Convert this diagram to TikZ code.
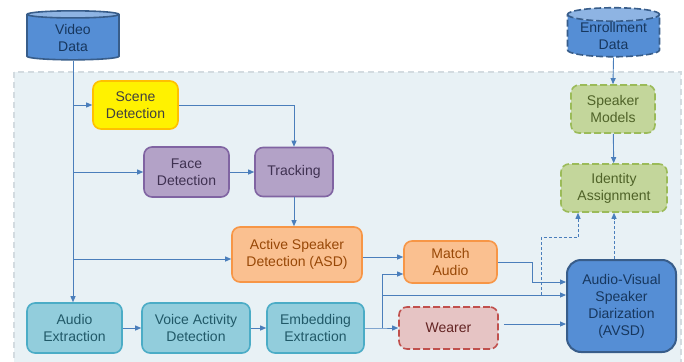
\documentclass[tikz,border=0pt]{standalone}
\usepackage{fontspec}
\setmainfont{Liberation Sans}
\usepackage{tikz}
\usetikzlibrary{positioning, arrows.meta, shapes.geometric}
\definecolor{lineblue}{RGB}{74,126,187}
\definecolor{panelfill}{HTML}{E8F1F5}
\definecolor{paneldraw}{HTML}{D3DBE0}
\definecolor{dbfill}{HTML}{558ED5}
\definecolor{dbtop}{HTML}{8EB4E3}
\definecolor{dbdraw}{HTML}{385D8A}
\definecolor{dbtext}{HTML}{17375E}
\tikzset{box/.style={draw, rounded corners=8pt, line width=1.6pt, align=center, inner sep=0pt, font=\fontsize{14}{17}\selectfont}}
\tikzset{E/.style={draw=lineblue, line width=0.9pt, -{Triangle[length=6pt,width=5pt]}}}
\tikzset{D/.style={E, dash pattern=on 3pt off 2pt}}
\tikzset{dashbox/.style={dash pattern=on 7pt off 3pt}}
\tikzset{db/.style={cylinder, shape border rotate=90, aspect=0.2, draw=dbdraw, line width=1.6pt, cylinder uses custom fill, cylinder body fill=dbfill, cylinder end fill=dbtop, text=dbtext, align=center, inner sep=0pt, minimum width=92pt, minimum height=49pt, font=\fontsize{14}{17}\selectfont}}
\tikzset{Y/.style={box, fill=yellow, draw={rgb,255:red,255;green,192;blue,0}, text={rgb,255:red,64;green,64;blue,64}}}
\tikzset{P/.style={box, fill={rgb,255:red,179;green,162;blue,199}, draw={rgb,255:red,128;green,100;blue,162}, text={rgb,255:red,63;green,49;blue,81}}}
\tikzset{O/.style={box, fill={rgb,255:red,250;green,192;blue,144}, draw={rgb,255:red,247;green,150;blue,70}, text={rgb,255:red,152;green,72;blue,7}}}
\tikzset{T/.style={box, fill={rgb,255:red,146;green,205;blue,220}, draw={rgb,255:red,75;green,172;blue,198}, text={rgb,255:red,33;green,89;blue,104}, minimum height=50pt}}
\tikzset{R/.style={box, dashbox, fill={rgb,255:red,230;green,196;blue,196}, draw={rgb,255:red,192;green,80;blue,77}, text={rgb,255:red,99;green,36;blue,35}}}
\tikzset{G/.style={box, dashbox, fill={rgb,255:red,195;green,214;blue,155}, draw={rgb,255:red,155;green,187;blue,89}, text={rgb,255:red,79;green,98;blue,40}}}
\tikzset{B/.style={box, rounded corners=14pt, line width=2pt, fill=dbfill, draw=dbdraw, text=dbtext}}

\begin{document}
\begin{tikzpicture}[x=1pt, y=-1pt, node distance=120pt and 120pt, on grid]
        \useasboundingbox (0,0) rectangle (684,361);
        %% Background panel
        \draw[fill=panelfill, draw=paneldraw, line width=1.2pt, dash pattern=on 6pt off 4pt] (14,72) rectangle (681,375);
        %% Data sources
        \node[db] (video) at (73,37.5) {Video\\Data};
        \node[db, dashbox] (enroll) at (613.5,36) {Enrollment\\Data};
        %% Video branch
        \node[Y, minimum width=85pt, minimum height=48pt] (scene) at (135.5,105) {Scene\\Detection};
        \node[P, minimum width=85pt, minimum height=50pt] (face) at (186.5,172) {Face\\Detection};
        \node[P, minimum width=78pt, minimum height=49pt, right=107.5pt of face] (track) {Tracking};
        \node[O, minimum width=130pt, minimum height=55pt] (asd) at (297,254.5) {Active Speaker\\Detection (ASD)};
        \node[O, minimum width=93pt, minimum height=42pt] (match) at (450.5,262) {Match\\Audio};
        %% Audio branch
        \node[T, minimum width=95pt] (audio) at (74.5,328) {Audio\\Extraction};
        \node[T, minimum width=108pt, right=121.5pt of audio] (vad) {Voice Activity\\Detection};
        \node[T, minimum width=97pt, right=119.5pt of vad] (embed) {Embedding\\Extraction};
        \node[R, minimum width=99pt, minimum height=42pt] (wearer) at (448.5,328) {Wearer};
        %% Diarization and identity
        \node[B, minimum width=109pt, minimum height=92pt] (avsd) at (621.5,306) {Audio-Visual\\Speaker\\Diarization\\(AVSD)};
        \node[G, minimum width=84pt, minimum height=48pt] (models) at (613,109) {Speaker\\Models};
        \node[G, minimum width=106pt, minimum height=48pt] (ident) at (614,188) {Identity\\Assignment};
        %% Helper points
        \coordinate[below=4.5pt of asd.west] (asdin);
        \coordinate[below=2.5pt of asd.east] (asdout);
        \coordinate[right=18pt of embed.east] (ej);
        \coordinate[below=12pt of match.west] (matchin);
        \coordinate[right=35pt of match.east] (mj);
        \coordinate[above=24pt of avsd.west] (avmatch);
        \coordinate[above=11pt of avsd.west] (avin);
        \coordinate[below=18pt of avsd.west] (avwear);
        \coordinate[left=25pt of avin] (dj);
        \coordinate[left=36pt of ident.south] (idin);
        \coordinate[below=25pt of idin] (idbend);
        %% Video edges
        \draw[E] (video.south) -- (video.south |- audio.north);
        \draw[E] (video.south |- scene.west) -- (scene.west);
        \draw[E] (video.south |- face.west) -- (face.west);
        \draw[E] (video.south |- asdin) -- (asdin);
        \draw[E] (scene.east) -| (track.north);
        \draw[E] (face.east) -- (track.west);
        \draw[E] (track.south) -- (track.south |- asd.north);
        \draw[E] (asdout) -- (asdout -| match.west);
        %% Audio edges
        \draw[E] (audio) -- (vad);
        \draw[E] (vad) -- (embed);
        \draw[E] (embed.east) -- (ej) -- (wearer.west);
        \draw[E] (ej) |- (matchin);
        \draw[E] (ej |- avin) -- (avin);
        \draw[E] (match.east) -- (mj) |- (avmatch);
        \draw[E, shorten <=5pt] (wearer.east |- avwear) -- (avwear);
        %% Identity edges
        \draw[E] (enroll.south) -- (models.north);
        \draw[E] (models) -- (ident);
        \draw[D] (dj) -- (dj |- idbend) -- (idbend) -- (idin);
        \draw[D] (ident.south |- avsd.north) -- (ident.south);
\end{tikzpicture}
\end{document}
